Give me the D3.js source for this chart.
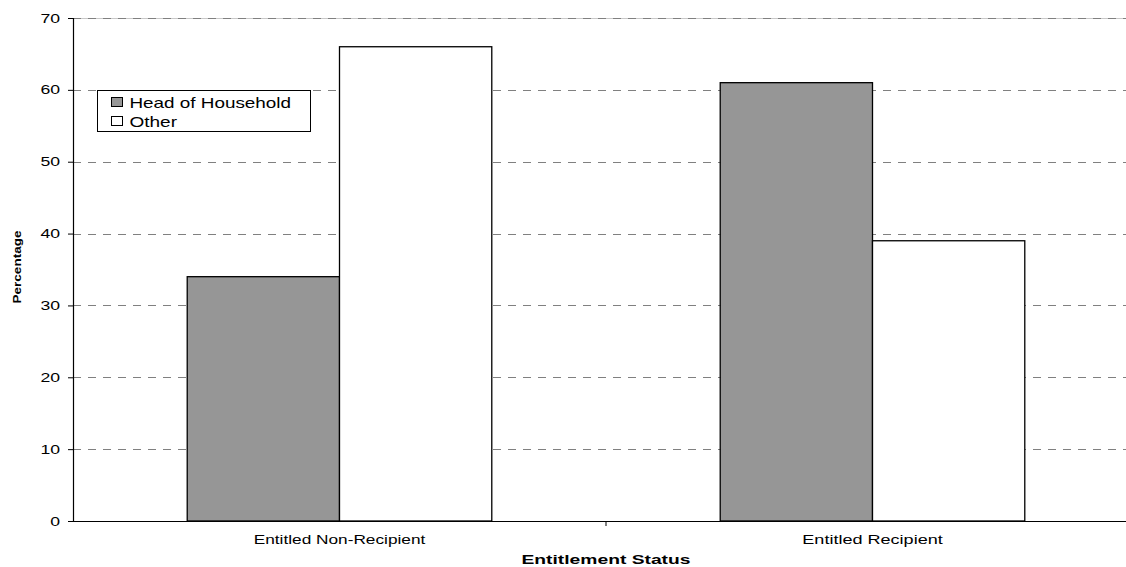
<!DOCTYPE html>
<html>
<head>
<meta charset="utf-8">
<script src="https://cdn.jsdelivr.net/npm/d3@7/dist/d3.min.js"></script>
<style>
  html, body { margin: 0; padding: 0; background: #fff; }
  svg { display: block; font-family: Arial, "Liberation Sans", sans-serif; }
</style>
</head>
<body>
<svg id="chart" width="1126" height="567"></svg>
<script>
// Share of entitlement groups by household role (percent)
const categories = ["Entitled Non-Recipient", "Entitled Recipient"];
const seriesNames = ["Head of Household", "Other"];
const headOfHousehold = [34, 61];
const other = [66, 39];
const yTicks = [0, 10, 20, 30, 40, 50, 60, 70];

const seriesValues = [headOfHousehold, other];
const seriesFill = ["#969696", "#ffffff"];

const FONT = "Arial, 'Liberation Sans', sans-serif";
// wide, Excel-like text: stretch glyphs to a width proportional to the string
function wide(sel, perChar) {
  sel.each(function () {
    const t = d3.select(this);
    const n = t.text().length;
    t.attr("textLength", n * perChar).attr("lengthAdjust", "spacingAndGlyphs");
  });
}

const svg = d3.select("#chart");
const margin = { left: 73, top: 18, bottom: 46 };
const plotH = 567 - margin.top - margin.bottom;   // 0 at y=521
const bandW = 533;
const plotW = bandW * categories.length;

const g = svg.append("g").attr("transform", `translate(${margin.left},${margin.top})`);

const x0 = d3.scaleBand().domain(categories).range([0, plotW]).paddingInner(0).paddingOuter(0);
// gap width of 150%: two bars of width w plus a 1.5w gap per band
const barW = x0.bandwidth() / (seriesNames.length + 1.5);
const x1 = d3.scaleBand().domain(seriesNames)
  .range([0.75 * barW, 0.75 * barW + barW * seriesNames.length]);
const y = d3.scaleLinear().domain([0, 70]).range([plotH, 0]);

// Horizontal dashed gridlines
const gridTicks = yTicks.filter(t => t > 0);
g.append("line")
  .attr("x1", 0).attr("x2", plotW).attr("y1", y(70) + 0.5).attr("y2", y(70) + 0.5)
  .attr("stroke", "#c8c8c8").attr("stroke-width", 1.2);
g.selectAll(".grid").data(gridTicks).enter().append("line")
  .attr("class", "grid")
  .attr("x1", 0).attr("x2", plotW)
  .attr("y1", d => Math.round(y(d)) + 0.5).attr("y2", d => Math.round(y(d)) + 0.5)
  .attr("stroke", "#808080").attr("stroke-width", 1.2)
  .attr("stroke-dasharray", "8,7");

// Bars
const groups = g.selectAll(".cat").data(categories).enter().append("g")
  .attr("transform", d => `translate(${x0(d)},0)`);
groups.selectAll("rect")
  .data((c, i) => seriesNames.map((s, j) => ({ s, j, v: seriesValues[j][i] })))
  .enter().append("rect")
  .attr("x", d => x1(d.s))
  .attr("y", d => y(d.v))
  .attr("width", x1.bandwidth())
  .attr("height", d => y(0) - y(d.v))
  .attr("fill", d => seriesFill[d.j])
  .attr("stroke", "#000").attr("stroke-width", 1.3);

// Y axis
const yAxis = d3.axisLeft(y).tickValues(yTicks).tickSize(5).tickPadding(8).tickFormat(d3.format("d"));
const ya = g.append("g").call(yAxis);
ya.select(".domain").attr("stroke", "#000").attr("stroke-width", 1.2);
ya.selectAll(".tick line").attr("stroke", "#000");
ya.selectAll(".tick text").attr("font-size", 12.5).attr("fill", "#000")
  .attr("font-family", FONT).call(wide, 9.8);

// X axis
const xAxis = d3.axisBottom(x0).tickSize(0).tickPadding(14);
const xa = g.append("g").attr("transform", `translate(0,${plotH})`).call(xAxis);
xa.select(".domain").attr("stroke", "#000").attr("stroke-width", 1.2);
xa.selectAll(".tick text").attr("font-size", 13).attr("fill", "#000")
  .attr("font-family", FONT).call(wide, 7.8);
// category separators
g.selectAll(".sep").data(categories.slice(1)).enter().append("line")
  .attr("x1", d => x0(d)).attr("x2", d => x0(d))
  .attr("y1", plotH).attr("y2", plotH + 5)
  .attr("stroke", "#000");

// Axis titles
svg.append("text")
  .attr("x", margin.left + bandW).attr("y", 564)
  .attr("text-anchor", "middle")
  .attr("font-size", 13).attr("font-weight", "bold")
  .attr("textLength", 169).attr("lengthAdjust", "spacingAndGlyphs")
  .text("Entitlement Status");
svg.append("text")
  .attr("transform", "translate(21,267) rotate(-90)")
  .attr("text-anchor", "middle")
  .attr("font-size", 11).attr("font-weight", "bold")
  .attr("textLength", 73).attr("lengthAdjust", "spacingAndGlyphs")
  .text("Percentage");

// Legend
const legend = svg.append("g").attr("transform", "translate(97.5,90.5)");
legend.append("rect").attr("width", 213).attr("height", 41)
  .attr("fill", "#fff").attr("stroke", "#000").attr("stroke-width", 1);
seriesNames.forEach((name, i) => {
  const row = legend.append("g").attr("transform", `translate(14,${7 + i * 19})`);
  row.append("rect").attr("width", 11).attr("height", 9)
    .attr("fill", seriesFill[i]).attr("stroke", "#000").attr("stroke-width", 1);
  row.append("text").attr("x", 18).attr("y", 10)
    .attr("font-size", 15).attr("font-family", FONT)
    .call(sel => sel.text(name))
    .call(wide, 9.5);
});
</script>
</body>
</html>
